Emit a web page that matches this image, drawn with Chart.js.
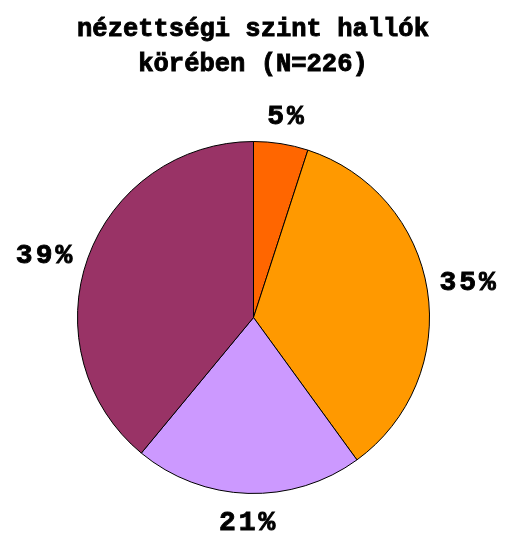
<!DOCTYPE html>
<html>
<head>
<meta charset="utf-8">
<script src="https://cdn.jsdelivr.net/npm/chart.js@4"></script>
<style>
  body { margin: 0; background: #fff; }
</style>
</head>
<body>
<canvas id="pieChart" width="510" height="536"></canvas>
<script>
// Data for the pie
const categories = ['A', 'B', 'C', 'D'];
const shares = [5, 35, 21, 39];
const sliceColors = ['#FF6600', '#FF9900', '#CC99FF', '#993366'];
const titleLines = ['nézettségi szint hallók', 'körében (N=226)'];

// heavy text: fill plus a thin stroke to make the mono font look bolder
function boldText(ctx, text, x, y) {
    ctx.fillText(text, x, y);
    ctx.strokeText(text, x, y);
}

// Title and percent labels
const chartText = {
    id: 'chartText',
    afterDatasetsDraw(chart) {
        const ctx = chart.ctx;
        const meta = chart.getDatasetMeta(0);
        ctx.save();
        ctx.fillStyle = '#000';
        ctx.strokeStyle = '#000';
        ctx.lineWidth = 0.9;
        ctx.textAlign = 'center';
        ctx.textBaseline = 'middle';

        ctx.font = 'bold 25.5px "Liberation Mono"';
        titleLines.forEach((line, i) => {
            boldText(ctx, line, 253, 30 + i * 35);
        });

        // little nudges so labels sit where the original placed them
        const nudge = [[0, 1], [1, -1], [0, 3], [-7, 11]];
        ctx.font = 'bold 28px "Liberation Mono"';
        ctx.letterSpacing = '3px';
        meta.data.forEach((arc, i) => {
            const mid = (arc.startAngle + arc.endAngle) / 2;
            const dist = arc.outerRadius + 26 + Math.abs(Math.cos(mid)) * 14;
            const x = arc.x + Math.cos(mid) * dist + 1.5 + nudge[i][0];
            const y = arc.y + Math.sin(mid) * dist + nudge[i][1];
            boldText(ctx, shares[i] + '%', x, y);
        });
        ctx.restore();
    }
};

const ctxPie = document.getElementById('pieChart').getContext('2d');
const pieChart = new Chart(ctxPie, {
    type: 'pie',
    data: {
        labels: categories,
        datasets: [{
            data: shares,
            backgroundColor: sliceColors,
            borderColor: '#000',
            borderWidth: 1
        }]
    },
    options: {
        responsive: false,
        animation: false,
        layout: {
            padding: { top: 141, left: 77, right: 80, bottom: 42 }
        },
        plugins: {
            legend: { display: false },
            tooltip: { enabled: false },
            title: { display: false }
        }
    },
    plugins: [chartText]
});
</script>
</body>
</html>
